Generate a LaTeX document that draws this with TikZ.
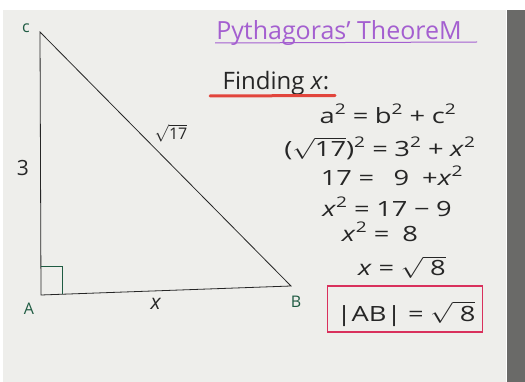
\documentclass[tikz,border=0pt]{standalone}
\usepackage{fontspec}
\setmainfont{Open Sans}
\definecolor{paper}{HTML}{EEEEEB}
\definecolor{desk}{HTML}{6A6A68}
\definecolor{ink}{HTML}{262626}
\definecolor{titlepurple}{HTML}{A45FD0}
\definecolor{labgreen}{HTML}{1F5B42}
\definecolor{underred}{HTML}{E2453C}
\definecolor{boxred}{HTML}{D9305C}
\newcommand\rt[1]{$\sqrt{\hbox{#1}}$}
\newcommand\sqd{\raisebox{2pt}{\textsuperscript{2}}}
\newcommand\xx{\textit{x}}
\newcommand\gap{\hspace{5pt}}
\begin{document}
\begin{tikzpicture}[x=1pt,y=-1pt,
  eq/.style={anchor=base, font=\fontsize{21}{24}\selectfont, text=ink, inner sep=0pt, transform shape, xscale=1.3},
  lab/.style={font=\fontsize{16}{18}\selectfont, text=labgreen, inner sep=0pt},
  side/.style={font=\fontsize{21}{24}\selectfont, text=ink, inner sep=0pt},
  tri/.style={draw=ink, line width=0.8pt},
  sqmark/.style={draw=labgreen, line width=1pt}]
\useasboundingbox (0,0) rectangle (525,382);
\fill[white] (0,0) rectangle (525,382);
\fill[paper] (3,10) rectangle (506,382);
\fill[desk] (507,10) rectangle (525,382);
% triangle
\coordinate (C) at (40,32);
\coordinate (A) at (41,295);
\coordinate (B) at (291,286);
\draw[tri] (C) -- (A) -- (B) -- cycle;
\coordinate (s1) at (41,267);
\coordinate (s2) at (62,267);
\coordinate (s3) at (62,294.3);
\draw[sqmark] (s1) -- (s2) -- (s3);
\node[lab] (lC) at (26,28) {c};
\node[lab] (lA) at (29,309) {A};
\node[lab] (lB) at (296,302) {B};
\node[side] (l3) at (23,168) {3};
\node[side] (lx) at (156,304) {\xx};
\node[side, font=\fontsize{16}{18}\selectfont] (l17) at (171,133) {\rt{17}};
% title
\node[anchor=base, font=\fontsize{25}{30}\selectfont, text=titlepurple, inner sep=0pt] (title) at (339,40) {Pythagoras’ TheoreM};
\coordinate (t1) at (215,43);
\coordinate (t2) at (477,42);
\draw[titlepurple, line width=1pt] (t1) -- (t2);
\node[anchor=base, font=\fontsize{24}{28}\selectfont, text=ink, inner sep=0pt] (find) at (276,90) {Finding \xx:};
\coordinate (u1) at (210,96);
\coordinate (u2) at (335,95.5);
\draw[underred, line width=3pt, line cap=round] (u1) -- (u2);
% equations
\node[eq] (e1) at (388,124) {a\sqd\gap=\gap b\sqd\gap+\gap c\sqd};
\node[eq] (e2) at (380,157) {(\rt{17})\sqd\gap=\gap3\sqd\gap+\gap\xx\sqd};
\node[eq] (e3) at (392,186) {17\gap=\gap\gap\gap9\gap\gap+\xx\sqd};
\node[eq] (e4) at (387,217) {\xx\sqd\gap=\gap17\gap−\gap9};
\node[eq] (e5) at (380,242) {\xx\sqd\gap=\gap\gap8};
\node[eq] (e6) at (402,276) {\xx{}\gap=\gap\rt{\ 8}};
\node[draw=boxred, line width=1.5pt, minimum width=155pt, minimum height=46pt, inner sep=0pt] (box) at (405,309) {};
\node[eq] (e7) at (406,321) {|AB|\gap=\gap\rt{\ 8}};
\end{tikzpicture}
\end{document}
